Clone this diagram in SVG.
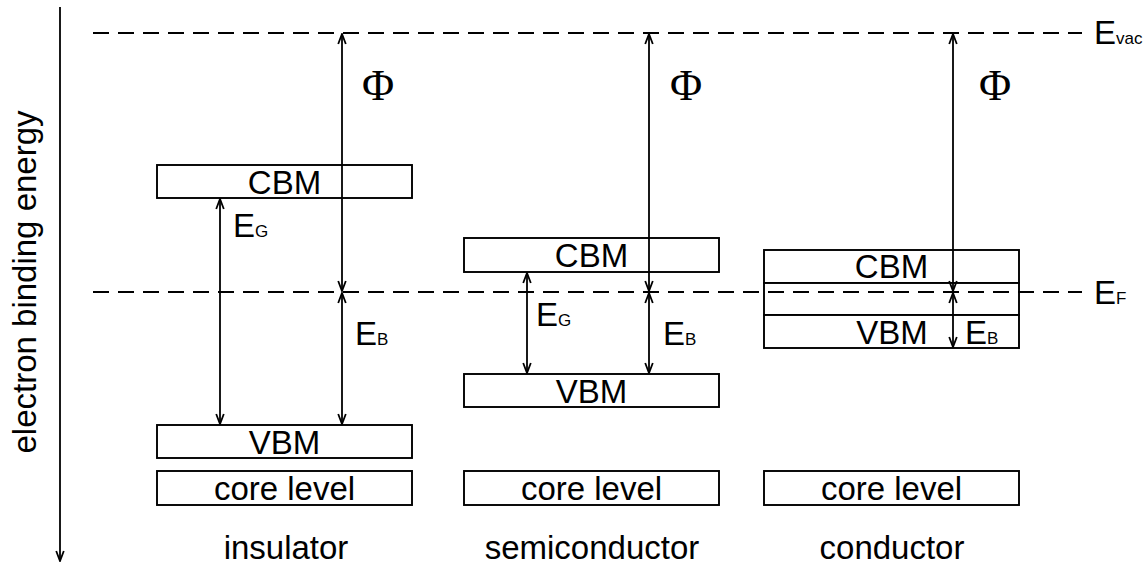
<svg xmlns="http://www.w3.org/2000/svg" width="1145" height="569" viewBox="0 0 1145 569">
<style>
.box{fill:#fff;stroke:#000;stroke-width:1.9}
.lbl{font-family:"Liberation Sans",Arial,sans-serif;font-size:33px;fill:#000}
.sub{font-size:17px}
.phi{font-family:"Liberation Serif","Times New Roman",serif;font-size:44px;fill:#000}
.dash{stroke:#000;stroke-width:1.8;stroke-dasharray:16 9;fill:none}
.arr{stroke:#000;stroke-width:1.8;fill:none;marker-start:url(#ah);marker-end:url(#ah)}
.arr1{stroke:#000;stroke-width:1.8;fill:none;marker-end:url(#ah)}
</style>
<defs>
<marker id="ah" viewBox="-11 -5 12 10" refX="0" refY="0" markerWidth="12" markerHeight="10" markerUnits="userSpaceOnUse" orient="auto-start-reverse">
<path d="M-10,-3.8 L0,0 L-10,3.8" fill="none" stroke="#000" stroke-width="1.8"/>
</marker>
</defs>
<rect width="1145" height="569" fill="#fff"/>

<g id="axis">
<line x1="60" y1="7" x2="60" y2="561" class="arr1"/>
<text class="lbl" transform="translate(36,282) rotate(-90)" text-anchor="middle">electron binding energy</text>
</g>

<g id="levels">
<line x1="93" y1="33" x2="1082" y2="33" class="dash"/>
<text class="lbl" x="1094" y="44">E<tspan class="sub">vac</tspan></text>
<text class="lbl" x="1094" y="304">E<tspan class="sub">F</tspan></text>
</g>

<g id="insulator">
<rect class="box" x="157" y="165" width="255" height="33"/>
<text class="lbl" x="284.5" y="194" text-anchor="middle">CBM</text>
<rect class="box" x="157" y="425" width="255" height="33"/>
<text class="lbl" x="284.5" y="454" text-anchor="middle">VBM</text>
<rect class="box" x="157" y="471" width="255" height="34"/>
<text class="lbl" x="284.5" y="500" text-anchor="middle">core level</text>
<text class="lbl" x="286" y="559" text-anchor="middle">insulator</text>
</g>

<g id="semiconductor">
<rect class="box" x="464" y="238" width="255" height="34"/>
<text class="lbl" x="591.5" y="267" text-anchor="middle">CBM</text>
<rect class="box" x="464" y="374" width="255" height="33"/>
<text class="lbl" x="591.5" y="403" text-anchor="middle">VBM</text>
<rect class="box" x="464" y="471" width="255" height="34"/>
<text class="lbl" x="591.5" y="500" text-anchor="middle">core level</text>
<text class="lbl" x="592" y="559" text-anchor="middle">semiconductor</text>
</g>

<g id="conductor">
<rect class="box" x="764" y="250" width="255" height="33"/>
<text class="lbl" x="891.5" y="278" text-anchor="middle">CBM</text>
<rect class="box" x="764" y="283" width="255" height="32"/>
<rect class="box" x="764" y="315" width="255" height="33"/>
<text class="lbl" x="892" y="344" text-anchor="middle">VBM</text>
<rect class="box" x="764" y="471" width="255" height="34"/>
<text class="lbl" x="891.5" y="500" text-anchor="middle">core level</text>
<text class="lbl" x="892" y="559" text-anchor="middle">conductor</text>
</g>

<g id="fermi">
<line x1="93" y1="292" x2="1082" y2="292" class="dash"/>
</g>

<g id="connectors">
<line x1="342" y1="34" x2="342" y2="291" class="arr"/>
<line x1="342" y1="293" x2="342" y2="424" class="arr"/>
<line x1="220" y1="199" x2="220" y2="424" class="arr"/>
<line x1="649" y1="34" x2="649" y2="291" class="arr"/>
<line x1="649" y1="293" x2="649" y2="373" class="arr"/>
<line x1="527" y1="273" x2="527" y2="373" class="arr"/>
<line x1="953" y1="34" x2="953" y2="291" class="arr"/>
<line x1="953" y1="293" x2="953" y2="347" class="arr"/>
</g>

<g id="labels">
<text class="phi" x="378" y="100" text-anchor="middle">Φ</text>
<text class="phi" x="686" y="100" text-anchor="middle">Φ</text>
<text class="phi" x="995" y="100" text-anchor="middle">Φ</text>
<text class="lbl" x="233" y="237">E<tspan class="sub">G</tspan></text>
<text class="lbl" x="536" y="326">E<tspan class="sub">G</tspan></text>
<text class="lbl" x="355" y="345">E<tspan class="sub">B</tspan></text>
<text class="lbl" x="663" y="345">E<tspan class="sub">B</tspan></text>
<text class="lbl" x="965" y="344">E<tspan class="sub">B</tspan></text>
</g>
</svg>
